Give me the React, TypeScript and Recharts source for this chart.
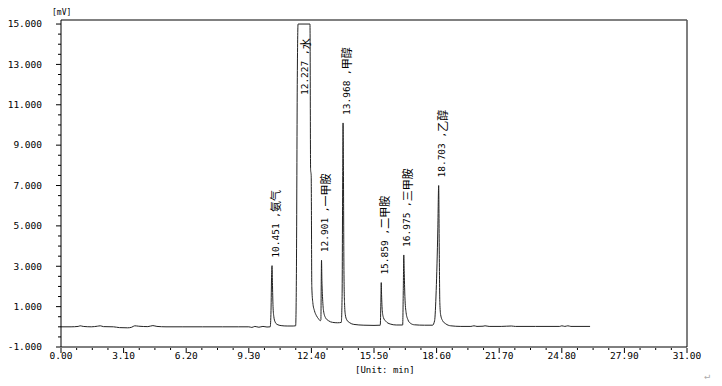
import React from 'react';
import { ComposedChart, Line, Scatter, XAxis, YAxis, ReferenceLine } from 'recharts';

// ---- Chromatogram trace (time in min, signal in mV) ----
const traceTime = [
  0.0, 0.5, 0.85, 0.95, 1.1, 1.5, 1.8, 1.95, 2.1, 2.6, 2.9, 3.3, 3.5, 3.65, 3.85, 4.3, 4.55, 4.75,
  5.2, 6.0, 7.0, 8.0, 8.8, 9.3, 9.45, 9.6, 9.8, 10.0, 10.2, 10.36, 10.4, 10.43, 10.451, 10.47, 10.5,
  10.54, 10.6, 10.7, 10.9, 11.2, 11.5, 11.62, 11.66, 11.7, 11.74, 12.33, 12.36, 12.39, 12.42, 12.47,
  12.55, 12.65, 12.75, 12.84, 12.87, 12.89, 12.901, 12.92, 12.95, 13.0, 13.1, 13.25, 13.45, 13.7,
  13.88, 13.92, 13.95, 13.968, 13.985, 14.01, 14.04, 14.08, 14.15, 14.3, 14.5, 15.0, 15.5, 15.81,
  15.84, 15.859, 15.875, 15.91, 15.97, 16.08, 16.3, 16.6, 16.92, 16.95, 16.975, 16.995, 17.03, 17.09,
  17.18, 17.3, 17.5, 18.0, 18.4, 18.5, 18.58, 18.66, 18.703, 18.73, 18.76, 18.8, 18.9, 19.05, 19.3,
  19.8, 20.3, 20.45, 20.6, 20.9, 21.0, 21.2, 21.8, 22.3, 22.5, 23.5, 24.7, 24.8, 24.95, 25.1, 25.25,
  26.2,
];
const traceSignal = [
  0.0, 0.0, 0.02, 0.05, 0.02, 0.0, 0.03, 0.05, 0.01, 0.0, -0.04, -0.05, -0.02, 0.05, 0.03, 0.01, 0.06, 0.02,
  0.0, 0.0, 0.0, 0.0, 0.0, 0.0, -0.03, 0.02, -0.02, 0.02, -0.01, 0.0, 0.8, 2.6, 3.03, 2.2, 1.0,
  0.5, 0.25, 0.12, 0.06, 0.04, 0.04, 0.05, 3.0, 12.0, 15.0, 15.0, 7.8, 7.5, 2.0, 1.2,
  0.8, 0.55, 0.4, 0.3, 0.35, 2.5, 3.3, 2.3, 1.5, 0.8, 0.45, 0.3, 0.22, 0.2,
  0.22, 1.5, 7.5, 10.1, 8.0, 3.0, 1.2, 0.6, 0.35, 0.2, 0.12, 0.08, 0.07, 0.08,
  1.2, 2.19, 1.6, 0.8, 0.45, 0.28, 0.14, 0.09, 0.09, 1.8, 3.56, 2.8, 1.5, 0.7,
  0.35, 0.18, 0.1, 0.08, 0.08, 0.3, 1.8, 4.8, 7.0, 4.0, 1.2, 0.6, 0.3, 0.15, 0.05,
  0.02, 0.02, 0.05, 0.02, 0.03, 0.05, 0.02, 0.02, 0.04, 0.02, 0.02, 0.02, 0.05, 0.02, 0.05, 0.02,
  0.02,
];

// ---- Peak annotations ----
const peakTimes = [10.451, 12.227, 12.901, 13.968, 15.859, 16.975, 18.703];
const peakHeights = [3.03, 15.0, 3.3, 10.1, 2.19, 3.56, 7.0];
const peakNames = ['氨气', '水', '一甲胺', '甲醇', '二甲胺', '三甲胺', '乙醇'];

// ---- Axis ticks ----
const xMajorTicks = [0, 3.1, 6.2, 9.3, 12.4, 15.5, 18.6, 21.7, 24.8, 27.9, 31.0];
const yMajorTicks = [-1, 1, 3, 5, 7, 9, 11, 13, 15];

const trace = traceTime.map((t, i) => ({ t, v: traceSignal[i] }));
const peaks = peakTimes.map((t, i) => ({ t, v: peakHeights[i], name: peakNames[i] }));

const subdivide = (majors: number[], parts: number) => {
  const out: number[] = [];
  for (let i = 0; i < majors.length - 1; i++) {
    const a = majors[i];
    const b = majors[i + 1];
    for (let k = 0; k < parts; k++) out.push(+(a + ((b - a) * k) / parts).toFixed(4));
  }
  out.push(majors[majors.length - 1]);
  return out;
};
const xTicks = subdivide(xMajorTicks, 4);
const yTicks = subdivide(yMajorTicks, 4);

const FONT = "'DejaVu Sans Mono', 'Noto Sans CJK SC', monospace";
const CJK = "'Noto Sans CJK SC', sans-serif";
const Y_TOP = 15.2;

const isMajor = (v: number, majors: number[]) => majors.some((m) => Math.abs(m - v) < 1e-6);

const XTick = (props: any) => {
  const { x, y, payload } = props;
  const major = isMajor(payload.value, xMajorTicks);
  return (
    <g>
      <line x1={x} y1={y + 1} x2={x} y2={y + (major ? 6 : 3)} stroke="#000" strokeWidth={1} />
      {major && (
        <text x={x} y={y + 12} textAnchor="middle" fontSize={9.5} fontFamily={FONT} fill="#000">
          {payload.value.toFixed(2)}
        </text>
      )}
    </g>
  );
};

const YTick = (props: any) => {
  const { x, y, payload } = props;
  const major = isMajor(payload.value, yMajorTicks);
  return (
    <g>
      <line x1={x - (major ? 5 : 3)} y1={y} x2={x} y2={y} stroke="#000" strokeWidth={1} />
      {major && (
        <text x={x - 19} y={y} dy="0.35em" textAnchor="end" fontSize={9.5} fontFamily={FONT} fill="#000">
          {payload.value.toFixed(3)}
        </text>
      )}
    </g>
  );
};

const PeakLabel = (props: any) => {
  const { cx, cy, payload } = props;
  if (cx == null || cy == null) return <g />;
  const clipped = payload.v >= 15;
  const x = cx + (clipped ? -3 : 3);
  const y = clipped ? cy + 71 : cy - 8;
  return (
    <text
      x={x}
      y={y}
      transform={`rotate(-90 ${x} ${y})`}
      fontSize={9.5}
      fontFamily={FONT}
      dominantBaseline="central"
      textAnchor="start"
      fill="#000"
    >
      {`${payload.t.toFixed(3)} ,`}
      <tspan fontFamily={CJK} fontSize={11}>
        {payload.name}
      </tspan>
    </text>
  );
};

export default function App() {
  return (
    <div style={{ position: 'absolute', left: 0, top: 0, width: 722, height: 386, background: '#fff' }}>
      <ComposedChart width={722} height={386} margin={{ top: 20, right: 35, bottom: 9, left: 0 }} data={trace}>
        <XAxis
          type="number"
          dataKey="t"
          domain={[0, 31]}
          ticks={xTicks}
          interval={0}
          tickSize={0}
          tickMargin={0}
          tick={XTick}
          axisLine={{ stroke: '#000' }}
          height={30}
          allowDataOverflow
        />
        <YAxis
          type="number"
          domain={[-1, Y_TOP]}
          ticks={yTicks}
          interval={0}
          tickSize={0}
          tickMargin={0}
          tick={YTick}
          width={61}
          axisLine={{ stroke: '#000' }}
          allowDataOverflow
        />
        <ReferenceLine y={Y_TOP} stroke="#808080" strokeWidth={2} />
        <ReferenceLine x={31} stroke="#555" strokeWidth={1.5} />
        <Line
          data={trace}
          dataKey="v"
          type="monotone"
          stroke="#222"
          strokeWidth={1}
          dot={false}
          activeDot={false}
          isAnimationActive={false}
        />
        <Scatter data={peaks} dataKey="v" shape={PeakLabel} isAnimationActive={false} />
      </ComposedChart>
      <div
        style={{
          position: 'absolute',
          left: 52,
          top: 8,
          fontSize: 8,
          fontFamily: FONT,
          lineHeight: '10px',
          color: '#000',
        }}
      >
        [mV]
      </div>
      <div
        style={{
          position: 'absolute',
          left: 355,
          top: 365,
          fontSize: 9,
          fontFamily: FONT,
          lineHeight: '11px',
          color: '#000',
          whiteSpace: 'nowrap',
        }}
      >
        [Unit: min]
      </div>
      <div
        style={{
          position: 'absolute',
          left: 704,
          top: 370,
          fontSize: 10,
          fontFamily: FONT,
          lineHeight: '12px',
          color: '#aaa',
        }}
      >
        ↵
      </div>
    </div>
  );
}
